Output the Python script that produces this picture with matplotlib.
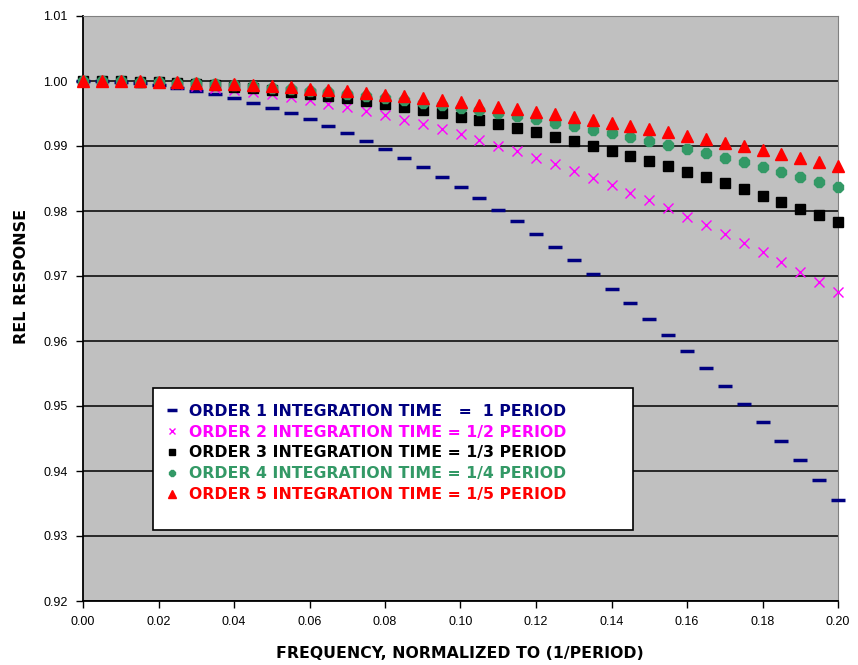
import numpy as np
import matplotlib
matplotlib.use("Agg")
import matplotlib.pyplot as plt
from matplotlib.patches import Rectangle
from matplotlib.ticker import MultipleLocator, FormatStrFormatter

# ---------------------------------------------------------------------------
# data (frequency normalised to 1/period, step 0.005)
# ---------------------------------------------------------------------------
freq = [i * 0.005 for i in range(41)]

order1 = [1.00000, 0.99996, 0.99984, 0.99963, 0.99934, 0.99897, 0.99852, 0.99799,
          0.99737, 0.99667, 0.99589, 0.99503, 0.99409, 0.99306, 0.99196, 0.99077,
          0.98951, 0.98816, 0.98673, 0.98522, 0.98363, 0.98196, 0.98021, 0.97839,
          0.97648, 0.97450, 0.97243, 0.97029, 0.96807, 0.96577, 0.96340, 0.96095,
          0.95842, 0.95581, 0.95313, 0.95038, 0.94755, 0.94465, 0.94167, 0.93861,
          0.93549]
order2 = [1.00000, 0.99998, 0.99992, 0.99981, 0.99967, 0.99949, 0.99926, 0.99899,
          0.99868, 0.99834, 0.99795, 0.99751, 0.99704, 0.99653, 0.99598, 0.99538,
          0.99475, 0.99407, 0.99336, 0.99260, 0.99180, 0.99097, 0.99007, 0.98917,
          0.98821, 0.98721, 0.98618, 0.98510, 0.98398, 0.98283, 0.98163, 0.98040,
          0.97912, 0.97781, 0.97646, 0.97506, 0.97363, 0.97217, 0.97066, 0.96911,
          0.96753]
order3 = [1.00000, 0.99999, 0.99995, 0.99988, 0.99978, 0.99966, 0.99951, 0.99933,
          0.99912, 0.99889, 0.99863, 0.99834, 0.99803, 0.99769, 0.99732, 0.99692,
          0.99650, 0.99605, 0.99557, 0.99506, 0.99453, 0.99397, 0.99338, 0.99277,
          0.99213, 0.99146, 0.99077, 0.99005, 0.98930, 0.98853, 0.98773, 0.98690,
          0.98605, 0.98517, 0.98426, 0.98333, 0.98237, 0.98139, 0.98037, 0.97934,
          0.97827]
order4 = [1.00000, 0.99999, 0.99996, 0.99991, 0.99984, 0.99974, 0.99963, 0.99950,
          0.99934, 0.99917, 0.99897, 0.99876, 0.99852, 0.99826, 0.99799, 0.99769,
          0.99737, 0.99703, 0.99667, 0.99629, 0.99590, 0.99548, 0.99504, 0.99457,
          0.99409, 0.99359, 0.99307, 0.99253, 0.99197, 0.99139, 0.99079, 0.99016,
          0.98952, 0.98886, 0.98818, 0.98748, 0.98676, 0.98601, 0.98525, 0.98447,
          0.98367]
order5 = [1.00000, 0.99999, 0.99997, 0.99993, 0.99987, 0.99979, 0.99970, 0.99960,
          0.99947, 0.99933, 0.99918, 0.99901, 0.99882, 0.99861, 0.99839, 0.99815,
          0.99790, 0.99763, 0.99734, 0.99703, 0.99672, 0.99638, 0.99603, 0.99566,
          0.99527, 0.99487, 0.99445, 0.99402, 0.99357, 0.99311, 0.99262, 0.99212,
          0.99161, 0.99108, 0.99053, 0.98997, 0.98939, 0.98880, 0.98819, 0.98756,
          0.98692]

labels = ["ORDER 1 INTEGRATION TIME   =  1 PERIOD",
          "ORDER 2 INTEGRATION TIME = 1/2 PERIOD",
          "ORDER 3 INTEGRATION TIME = 1/3 PERIOD",
          "ORDER 4 INTEGRATION TIME = 1/4 PERIOD",
          "ORDER 5 INTEGRATION TIME = 1/5 PERIOD"]

# ---------------------------------------------------------------------------
# styling per series
# ---------------------------------------------------------------------------
colors = ["#000080", "#FF00FF", "#000000", "#339966", "#FF0000"]
markers = ["_", "x", "s", "8", "^"]
msizes = [10, 7, 7.5, 8, 8]
mews = [2.5, 1.0, 1.0, 1.0, 1.0]

plt.rcParams['font.family'] = ['Liberation Sans', 'DejaVu Sans']
bold_font = {"family": "DejaVu Sans", "weight": "bold"}

fig = plt.figure(figsize=(8.58, 6.65), dpi=100)
ax = fig.add_axes([83 / 858, 1 - 601 / 665, 755 / 858, 585 / 665])
ax.set_facecolor("#C0C0C0")

series = [order1, order2, order3, order4, order5]
for ys, c, m, ms, mew, lab in zip(series, colors, markers, msizes, mews, labels):
    ax.plot(freq, ys, linestyle="none", marker=m, markersize=ms, color=c,
            markeredgecolor=c, markeredgewidth=mew, label=lab, clip_on=False,
            zorder=3)

ax.set_xlim(0.0, 0.20)
ax.set_ylim(0.92, 1.01)
ax.xaxis.set_major_locator(MultipleLocator(0.02))
ax.yaxis.set_major_locator(MultipleLocator(0.01))
ax.xaxis.set_major_formatter(FormatStrFormatter("%.2f"))
ax.yaxis.set_major_formatter(FormatStrFormatter("%.2f"))
ax.yaxis.grid(True, color="black", linewidth=1.1)
ax.set_axisbelow(True)
ax.tick_params(direction="out", length=5, width=1.0, labelsize=9, pad=6)

ax.spines["left"].set_linewidth(1.3)
ax.spines["bottom"].set_linewidth(1.3)
ax.spines["right"].set_color("#808080")
ax.spines["top"].set_color("#808080")

# axis titles placed where they sit in the original
fig.text(460 / 858, 1 - 653 / 665, "FREQUENCY, NORMALIZED TO (1/PERIOD)",
         ha="center", va="center", fontsize=11.3, **bold_font)
fig.text(22 / 858, 1 - 276 / 665, "REL RESPONSE", rotation=90,
         ha="center", va="center", fontsize=11.5, **bold_font)

# legend box (white, black edge) drawn separately so it can be as wide as
# the original one, then the legend entries inside it without a frame
ax.add_patch(Rectangle((0.0927, 0.121), 0.6358, 0.243, transform=ax.transAxes,
                       facecolor="white", edgecolor="black", linewidth=1.2,
                       zorder=5, clip_on=False))
leg = ax.legend(loc="upper left", bbox_to_anchor=(0.1086, 0.337),
                borderaxespad=0.0, borderpad=0.0, frameon=False,
                markerscale=0.65, handlelength=0.9, handletextpad=0.6,
                labelspacing=0.37, prop={"family": "DejaVu Sans", "size": 11.3,
                                         "weight": "bold"})
leg.set_zorder(6)
for txt, c in zip(leg.get_texts(), colors):
    txt.set_color(c)

fig.savefig("out.png", dpi=100, facecolor="white")
